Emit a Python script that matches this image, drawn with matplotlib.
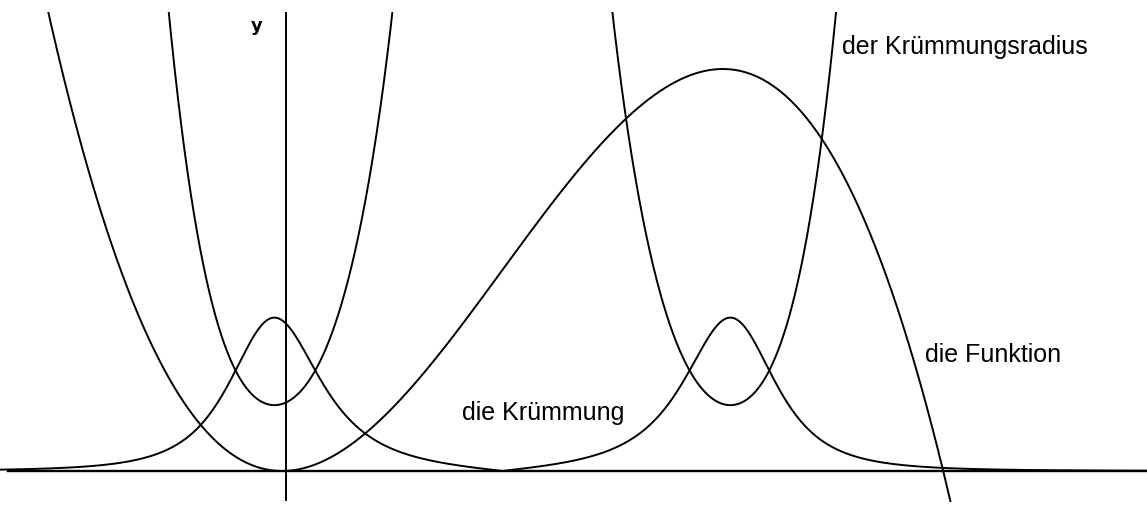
import matplotlib.pyplot as plt
import numpy as np

# f(x) = -1/8 x^3 + 6/8 x^2  (Funktion)
coeffs = [-1 / 8, 6 / 8, 0.0, 0.0]
labels = ['die Funktion', 'die Krümmung', 'der Krümmungsradius']

poly = np.poly1d(coeffs)
d1 = poly.deriv(1)
d2 = poly.deriv(2)

x = np.linspace(-2.7, 8.0, 4000)
f = poly(x)
k = np.abs(d2(x)) / (1 + d1(x) ** 2) ** 1.5
with np.errstate(divide='ignore'):
    r = 1 / k
r[r > 20] = np.nan

W, H = 1147, 509
x0, sx = 282, 110.2     # pixel of x=0, pixels per unit
y0, sy = 471, 100.5     # pixel of y=0, pixels per unit
top, bottom = 12, 502   # visible drawing band

fig = plt.figure(figsize=(W / 100, H / 100), dpi=100)
ax = fig.add_axes([0, (H - bottom) / H, 1, (bottom - top) / H])
ax.set_xlim(-x0 / sx, (W - x0) / sx)
ax.set_ylim(-(bottom - y0) / sy, (y0 - top) / sy)
ax.axis('off')

# coordinate axes
ax.plot([(8 - x0) / sx, (W - x0) / sx], [0, 0], color='black', lw=1.7)
xa = (286 - x0) / sx
ax.plot([xa, xa], [-(500 - y0) / sy, (y0 - top) / sy], color='black', lw=1.4)

for ys in (f, k, r):
    ax.plot(x, ys, color='black', lw=1.4)

font = 'Liberation Sans'
fig.text(257 / W, 1 - 26 / H, 'y', fontsize=13, fontweight='bold', ha='center', va='center',
         family='DejaVu Sans')
fig.text(842 / W, 1 - 47 / H, labels[2], fontsize=18, va='center', ha='left', family=font)
fig.text(925 / W, 1 - 355 / H, labels[0], fontsize=18, va='center', ha='left', family=font)
fig.text(462 / W, 1 - 413 / H, labels[1], fontsize=18, va='center', ha='left', family=font)

fig.savefig('out.png', dpi=100, facecolor='white')
